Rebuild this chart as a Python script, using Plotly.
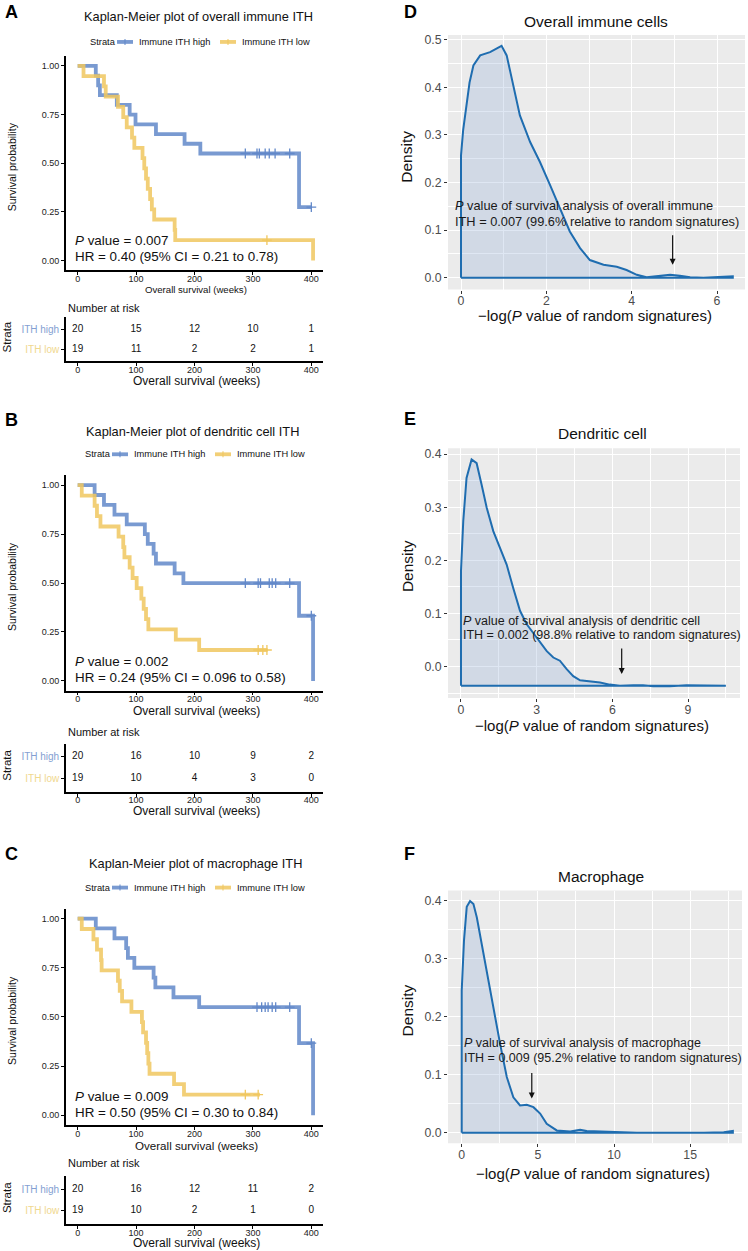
import plotly.graph_objects as go

W, H = 748, 1251
FONT = "Liberation Sans, Arial, Helvetica, sans-serif"

# ---------------- data ----------------
weeks_ticks = [0, 100, 200, 300, 400]
risk_groups = ["ITH high", "ITH low"]

# Panel A (overall immune ITH)
A_high_t = [0, 31, 35, 38, 67, 89, 99, 134, 183, 210, 379, 400]
A_high_s = [1.0, 0.95, 0.90, 0.85, 0.80, 0.75, 0.70, 0.65, 0.60, 0.55, 0.275, 0.275]
A_high_cens = [287, 307, 311, 321, 328, 338, 363, 400]
A_low_t = [0, 10, 45, 48, 69, 78, 84, 93, 97, 111, 114, 117, 120, 124, 127, 131, 166, 167, 403]
A_low_s = [1.0, 0.947, 0.895, 0.842, 0.789, 0.737, 0.684, 0.632, 0.579, 0.526, 0.474, 0.421,
           0.368, 0.316, 0.263, 0.211, 0.158, 0.105, 0.0]
A_low_cens = [324]
A_risk_high = [20, 15, 12, 10, 1]
A_risk_low = [19, 11, 2, 2, 1]

# Panel B (dendritic cell ITH)
B_high_t = [0, 29, 45, 63, 84, 115, 120, 130, 134, 166, 181, 379, 403]
B_high_s = [1.0, 0.95, 0.90, 0.85, 0.80, 0.75, 0.70, 0.65, 0.60, 0.55, 0.50, 0.333, 0.0]
B_high_cens = [287, 309, 313, 328, 333, 339, 363, 400]
B_low_t = [0, 7, 29, 33, 39, 70, 78, 80, 89, 94, 101, 109, 113, 117, 121, 168, 208, 325]
B_low_s = [1.0, 0.947, 0.895, 0.842, 0.789, 0.737, 0.684, 0.632, 0.579, 0.526, 0.474, 0.421,
           0.368, 0.316, 0.263, 0.211, 0.158, 0.158]
B_low_cens = [309, 317, 324]
B_risk_high = [20, 16, 10, 9, 2]
B_risk_low = [19, 10, 4, 3, 0]

# Panel C (macrophage ITH)
C_high_t = [0, 31, 63, 83, 86, 97, 130, 133, 164, 208, 379, 403]
C_high_s = [1.0, 0.95, 0.90, 0.85, 0.80, 0.75, 0.70, 0.65, 0.60, 0.55, 0.367, 0.0]
C_high_cens = [307, 315, 321, 326, 333, 339, 363, 400]
C_low_t = [0, 7, 27, 33, 40, 41, 69, 72, 76, 92, 110, 112, 117, 119, 121, 123, 165, 182, 312]
C_low_s = [1.0, 0.947, 0.895, 0.842, 0.789, 0.737, 0.684, 0.632, 0.579, 0.526, 0.474, 0.421,
           0.368, 0.316, 0.263, 0.211, 0.158, 0.105, 0.105]
C_low_cens = [287, 309]
C_risk_high = [20, 16, 12, 11, 2]
C_risk_low = [19, 10, 2, 1, 0]

# Density panels: -log(P) of random signatures
D_x = [0, 0.05, 0.13, 0.2, 0.29, 0.45, 0.68, 0.95, 1.07, 1.23, 1.38, 1.62, 1.85, 2.09, 2.32,
       2.55, 2.79, 3.02, 3.34, 3.65, 3.88, 4.12, 4.35, 4.66, 4.9, 5.13, 5.37, 5.68, 6.07, 6.37]
D_y = [0.257, 0.31, 0.369, 0.41, 0.446, 0.467, 0.474, 0.487, 0.467, 0.404, 0.341, 0.285, 0.243,
       0.194, 0.145, 0.097, 0.062, 0.037, 0.027, 0.023, 0.016, 0.006, 0.001, 0.003, 0.006, 0.004,
       0.001, 0.0, 0.001, 0.003]
D_base = 0.0
D_arrow = 4.96

E_x = [0, 0.09, 0.22, 0.42, 0.62, 0.82, 1.02, 1.28, 1.55, 1.81, 2.07, 2.34, 2.6, 3.0, 3.4, 3.66,
       3.92, 4.19, 4.45, 4.72, 5.11, 5.51, 5.9, 6.3, 6.83, 7.22, 7.62, 8.28, 8.94, 9.6, 10.5]
E_y = [0.18, 0.274, 0.355, 0.39, 0.383, 0.342, 0.299, 0.255, 0.223, 0.192, 0.148, 0.105, 0.080,
       0.055, 0.029, 0.017, 0.011, -0.005, -0.018, -0.026, -0.028, -0.030, -0.034, -0.036,
       -0.035, -0.035, -0.037, -0.037, -0.035, -0.036, -0.036]
E_base = -0.036
E_arrow = 6.37

F_x = [0, 0.15, 0.33, 0.55, 0.77, 0.99, 1.31, 1.64, 2.08, 2.52, 2.96, 3.39, 3.83, 4.27, 4.71,
       5.15, 5.58, 6.24, 7.12, 7.77, 8.21, 8.87, 9.74, 11.5, 15.9, 17.2, 17.8]
F_y = [0.245, 0.331, 0.389, 0.399, 0.394, 0.371, 0.325, 0.279, 0.216, 0.153, 0.096, 0.061, 0.047,
       0.048, 0.044, 0.033, 0.0155, 0.004, 0.0023, 0.005, 0.003, 0.0023, 0.0006, 0.0, 0.0, 0.001,
       0.003]
F_base = 0.0
F_arrow = 4.6

# ---------------- styling ----------------
BLUE = "rgba(98,136,201,0.85)"
BLUE_M = "rgba(98,136,201,1)"
YEL = "rgba(240,199,95,0.85)"
YEL_M = "rgba(240,199,95,1)"
BLUE_LBL = "#849FD2"
YEL_LBL = "#F0D88E"
DLINE = "#1F6DB0"
DFILL = "rgba(150,175,215,0.30)"
PANEL_BG = "#EBEBEB"


def X(px):
    return px / W


def Y(py):
    return 1 - py / H


def step_at(t, s, x):
    val = s[0]
    for ti, si in zip(t, s):
        if ti <= x:
            val = si
    return val


fig = go.Figure()
layout = {}
annotations = []
shapes = []


def ax_names(i):
    return ("xaxis" if i == 1 else f"xaxis{i}", "yaxis" if i == 1 else f"yaxis{i}",
            "x" if i == 1 else f"x{i}", "y" if i == 1 else f"y{i}")


def text(x, y, s, size, color="#111", anchor="left", angle=0, bold=False, yanchor="middle"):
    annotations.append(dict(x=X(x), y=Y(y), xref="paper", yref="paper", text=s, showarrow=False,
                            xanchor=anchor, yanchor=yanchor, textangle=angle,
                            font=dict(family=FONT, size=size, color=color,
                                      weight="bold" if bold else "normal")))


km_panels = [
    dict(k=1, r=2, t=54.25, b=268.75, rt=316, rb=360,
         hi=(A_high_t, A_high_s, A_high_cens), lo=(A_low_t, A_low_s, A_low_cens),
         rh=A_risk_high, rl=A_risk_low, letter="A", ly=10,
         title="Kaplan-Meier plot of overall immune ITH", tx=198, ty=15,
         leg_y=40, leg_x=88, p="0.007", hr="HR = 0.40 (95% CI = 0.21 to 0.78)", py=239,
         xt_y=288, xt_size=9.6, nar_y=306, rx_y=380),
    dict(k=3, r=4, t=474.2, b=689.8, rt=743, rb=791,
         hi=(B_high_t, B_high_s, B_high_cens), lo=(B_low_t, B_low_s, B_low_cens),
         rh=B_risk_high, rl=B_risk_low, letter="B", ly=419,
         title="Kaplan-Meier plot of dendritic cell ITH", tx=193, ty=430,
         leg_y=453, leg_x=83, p="0.002", hr="HR = 0.24 (95% CI = 0.096 to 0.58)", py=661,
         xt_y=710, xt_size=12, nar_y=731, rx_y=810),
    dict(k=5, r=6, t=908.2, b=1124.9, rt=1176, rb=1224,
         hi=(C_high_t, C_high_s, C_high_cens), lo=(C_low_t, C_low_s, C_low_cens),
         rh=C_risk_high, rl=C_risk_low, letter="C", ly=853,
         title="Kaplan-Meier plot of macrophage ITH", tx=195, ty=863,
         leg_y=887, leg_x=83, p="0.009", hr="HR = 0.50 (95% CI = 0.30 to 0.84)", py=1096,
         xt_y=1145, xt_size=11.6, nar_y=1163, rx_y=1243),
]

XL, XR = 66, 323
base_x = dict(range=[-20, 420], tickvals=weeks_ticks, showline=True, linecolor="black",
              linewidth=1.6, ticks="outside", ticklen=3, tickcolor="black", tickwidth=1,
              showgrid=False, zeroline=False, ticklabelstandoff=-4,
              tickfont=dict(family=FONT, size=9, color="#222"))

for P in km_panels:
    xa, ya, xr, yr = ax_names(P["k"])
    layout[xa] = dict(base_x, domain=[X(XL), X(XR)], anchor=yr)
    layout[ya] = dict(range=[-0.05, 1.05], tickvals=[0, 0.25, 0.5, 0.75, 1.0], tickformat=".2f",
                      showline=True, linecolor="black", linewidth=1.6, ticks="outside", ticklen=3,
                      tickcolor="black", showgrid=False, zeroline=False,
                      tickfont=dict(family=FONT, size=9, color="#222"),
                      domain=[Y(P["b"]), Y(P["t"])], anchor=xr)
    for (t, s, cens), col, colm in ((P["hi"], BLUE, BLUE_M), (P["lo"], YEL, YEL_M)):
        fig.add_trace(go.Scatter(x=t, y=s, mode="lines", line=dict(color=col, width=3.8, shape="hv"),
                                 xaxis=xr, yaxis=yr, showlegend=False, hoverinfo="skip"))
        fig.add_trace(go.Scatter(x=cens, y=[step_at(t, s, c) for c in cens], mode="markers",
                                 marker=dict(symbol="cross-thin", size=7,
                                             line=dict(width=1.3, color=colm)),
                                 xaxis=xr, yaxis=yr, showlegend=False, hoverinfo="skip"))
    # risk table
    xa2, ya2, xr2, yr2 = ax_names(P["r"])
    layout[xa2] = dict(base_x, domain=[X(XL), X(XR)], anchor=yr2)
    layout[ya2] = dict(range=[-0.6, 1.6], tickvals=[0, 1],
                       ticktext=[f'<span style="color:{YEL_LBL}">{risk_groups[1]}</span>',
                                 f'<span style="color:{BLUE_LBL}">{risk_groups[0]}</span>'],
                       showline=True, linecolor="black", linewidth=1.6, ticks="outside", ticklen=3,
                       tickcolor="black", showgrid=False, zeroline=False,
                       tickfont=dict(family=FONT, size=10),
                       domain=[Y(P["rb"]), Y(P["rt"])], anchor=xr2)
    for yv, vals in ((1, P["rh"]), (0, P["rl"])):
        fig.add_trace(go.Scatter(x=weeks_ticks, y=[yv] * len(vals), mode="text",
                                 text=[str(v) for v in vals],
                                 textfont=dict(family=FONT, size=10, color="#111"),
                                 xaxis=xr2, yaxis=yr2, showlegend=False, hoverinfo="skip"))
    # texts
    text(3, P["ly"], P["letter"], 18, "black", bold=True)
    text(P["tx"], P["ty"], P["title"], 12.8, "#111", anchor="center")
    lx = P["leg_x"]
    text(lx, P["leg_y"], "Strata", 9.3, "#111")
    for x0, col, lab in ((lx + 29, BLUE, "Immune ITH high"), (lx + 132, YEL, "Immune ITH low")):
        shapes.append(dict(type="line", xref="paper", yref="paper", x0=X(x0), x1=X(x0 + 16),
                           y0=Y(P["leg_y"]), y1=Y(P["leg_y"]), line=dict(color=col, width=3.8)))
        shapes.append(dict(type="line", xref="paper", yref="paper", x0=X(x0 + 8), x1=X(x0 + 8),
                           y0=Y(P["leg_y"] - 3), y1=Y(P["leg_y"] + 3), line=dict(color=col, width=1.2)))
        text(x0 + 20, P["leg_y"], lab, 9.3, "#111")
    text(73, P["py"], f"<i>P</i> value = {P['p']}", 13.4, "#111")
    text(73, P["py"] + 16, P["hr"], 13.4, "#111")
    text(196, P["xt_y"], "Overall survival (weeks)", P["xt_size"], "#111", anchor="center")
    text(12, (P["t"] + P["b"]) / 2 + 4, "Survival probability", 10.5, "#111", anchor="center", angle=-90)
    text(66, P["nar_y"], "Number at risk", 11, "#111")
    text(7, (P["rt"] + P["rb"]) / 2 - 2, "Strata", 11.5, "#111", anchor="center", angle=-90)
    text(196, P["rx_y"], "Overall survival (weeks)", 12, "#111", anchor="center")

# density panels
dens_panels = [
    dict(k=7, l=448, r=745, t=33, b=288, xr=[-0.305, 6.656], yr=[-0.025, 0.51], xd=2, yd=0.1,
         x=D_x, y=D_y, base=D_base, arrow=D_arrow, ah=0.027, alen=31, letter="D", ly=10,
         title="Overall immune cells", tx=596, ty=20, xty=314, ytx=407, yty=155,
         l1="<i>P</i> value of survival analysis of overall immune",
         l2="ITH = 0.007 (99.6% relative to random signatures)", lx=453, l1y=204, l2y=220, fs=12.8),
    dict(k=8, l=448, r=740, t=447, b=697, xr=[-0.515, 11.06], yr=[-0.059, 0.411], xd=3, yd=0.1,
         x=E_x, y=E_y, base=E_base, arrow=E_arrow, ah=-0.014, alen=27, letter="E", ly=418,
         title="Dendritic cell", tx=602, ty=432, xty=725, ytx=407, yty=565,
         l1="<i>P</i> value of survival analysis of dendritic cell",
         l2="ITH = 0.002 (98.8% relative to random signatures)", lx=461, l1y=620, l2y=634, fs=12.5),
    dict(k=9, l=448, r=742, t=890, b=1143, xr=[-0.9, 18.4], yr=[-0.018, 0.417], xd=5, yd=0.1,
         x=F_x, y=F_y, base=F_base, arrow=F_arrow, ah=0.059, alen=27, letter="F", ly=853,
         title="Macrophage", tx=601, ty=876, xty=1173, ytx=407, yty=1010,
         l1="<i>P</i> value of survival analysis of macrophage",
         l2="ITH = 0.009 (95.2% relative to random signatures)", lx=462, l1y=1043, l2y=1058, fs=12.5),
]

for P in dens_panels:
    xa, ya, xr, yr = ax_names(P["k"])
    common = dict(showline=False, zeroline=False, showgrid=True, gridcolor="white", gridwidth=1.2,
                  ticks="outside", ticklen=3, tickcolor="#333", tickwidth=1,
                  tickfont=dict(family=FONT, size=12.3, color="#4D4D4D"))
    layout[xa] = dict(common, range=P["xr"], dtick=P["xd"], tick0=0, domain=[X(P["l"]), X(P["r"])],
                      anchor=yr, ticklabelstandoff=-3,
                      minor=dict(dtick=P["xd"] / 2, tick0=0, showgrid=True,
                                 gridcolor="white", gridwidth=0.6))
    layout[ya] = dict(common, range=P["yr"], dtick=P["yd"], tick0=0, tickformat=".1f",
                      domain=[Y(P["b"]), Y(P["t"])], anchor=xr,
                      minor=dict(dtick=P["yd"] / 2, tick0=0, showgrid=True,
                                 gridcolor="white", gridwidth=0.6))
    shapes.append(dict(type="rect", xref=f"{xr} domain", yref=f"{yr} domain", x0=0, x1=1, y0=0, y1=1,
                       fillcolor=PANEL_BG, line=dict(width=0), layer="below"))
    xs, ys, b = P["x"], P["y"], P["base"]
    fig.add_trace(go.Scatter(x=[xs[0]] + xs + [xs[-1], xs[0]], y=[b] + ys + [b, b], mode="lines",
                             fill="toself", fillcolor=DFILL, line=dict(color=DLINE, width=2),
                             xaxis=xr, yaxis=yr, showlegend=False, hoverinfo="skip"))
    annotations.append(dict(x=P["arrow"], y=P["ah"], xref=xr, yref=yr, ax=0, ay=-P["alen"],
                            text="", showarrow=True, arrowhead=2, arrowsize=1, arrowwidth=1.2,
                            arrowcolor="#111"))
    text(402, P["ly"], P["letter"], 18, "black", bold=True)
    text(P["tx"], P["ty"], P["title"], 15.5, "#111", anchor="center")
    text((P["l"] + P["r"]) / 2 - 2, P["xty"], "\u2212log(<i>P</i> value of random signatures)", 15.0,
         "#111", anchor="center")
    text(P["ytx"], P["yty"], "Density", 15.5, "#111", anchor="center", angle=-90)
    text(P["lx"], P["l1y"], P["l1"], P["fs"], "#1a1a1a")
    text(P["lx"], P["l2y"], P["l2"], P["fs"], "#1a1a1a")

fig.update_layout(width=W, height=H, margin=dict(l=0, r=0, t=0, b=0), paper_bgcolor="white",
                  plot_bgcolor="white", showlegend=False, annotations=annotations, shapes=shapes,
                  font=dict(family=FONT), **layout)
fig.write_html("out.html", config={"displayModeBar": False},
               post_script="document.body.style.margin='0px';document.body.style.padding='0px';")
